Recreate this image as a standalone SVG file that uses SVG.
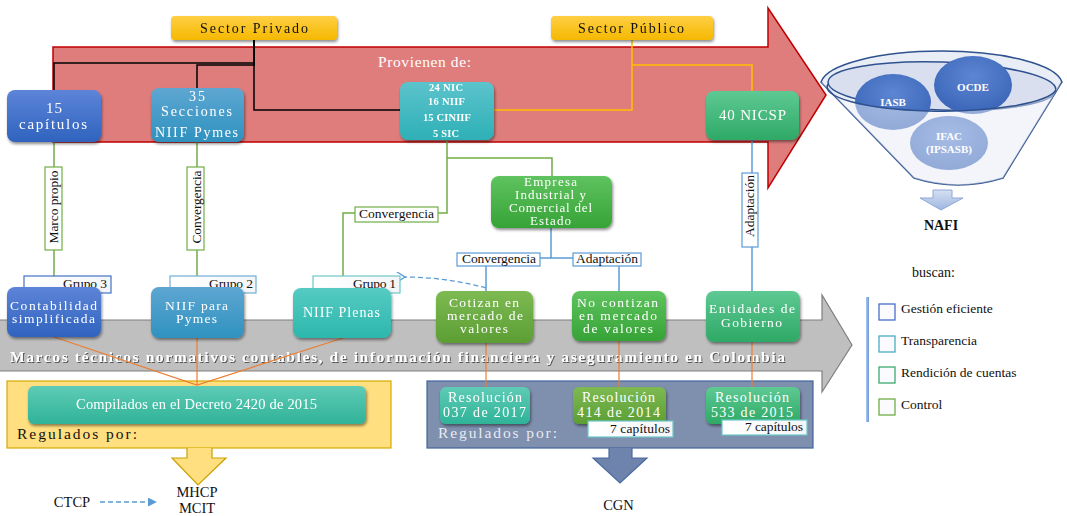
<svg xmlns="http://www.w3.org/2000/svg" width="1067" height="516" viewBox="0 0 1067 516">
<style>
text{font-family:"Liberation Serif","DejaVu Serif",serif}
.w{fill:#fff}
.k{fill:#111}
.n{font-size:13.5px}
.r{font-size:14px}
.s{font-size:10.5px;font-weight:bold}
.lb{font-size:13.5px;fill:#111}
.c{text-anchor:middle}
.blk{fill:none;stroke:#000;stroke-width:1.5}
.org{fill:none;stroke:#ffc000;stroke-width:1.5}
.grn{fill:none;stroke:#70ad47;stroke-width:1.5}
.blu{fill:none;stroke:#5b9bd5;stroke-width:1.5}
.ora{fill:none;stroke:#ed7d31;stroke-width:1.2}
.node{filter:url(#sh)}
</style>
<defs>
<filter id="sh" x="-20%" y="-20%" width="140%" height="150%"><feDropShadow dx="1" dy="2" stdDeviation="1.5" flood-color="#000" flood-opacity="0.45"/></filter>
<filter id="tsh" x="-5%" y="-30%" width="110%" height="160%"><feDropShadow dx="1" dy="1" stdDeviation="0.6" flood-color="#444" flood-opacity="0.9"/></filter>
<linearGradient id="gBlue1" x1="0" y1="0" x2="0" y2="1"><stop offset="0" stop-color="#5d84d8"/><stop offset="1" stop-color="#2f63bf"/></linearGradient>
<linearGradient id="gBlue2" x1="0" y1="0" x2="0" y2="1"><stop offset="0" stop-color="#5ea6d2"/><stop offset="1" stop-color="#2f92bf"/></linearGradient>
<linearGradient id="gTeal" x1="0" y1="0" x2="0" y2="1"><stop offset="0" stop-color="#5cc3cc"/><stop offset="1" stop-color="#2eb0b6"/></linearGradient>
<linearGradient id="gTeal2" x1="0" y1="0" x2="0" y2="1"><stop offset="0" stop-color="#55cbc2"/><stop offset="1" stop-color="#2db7ad"/></linearGradient>
<linearGradient id="gGT" x1="0" y1="0" x2="0" y2="1"><stop offset="0" stop-color="#5ec993"/><stop offset="1" stop-color="#2ea966"/></linearGradient>
<linearGradient id="gG" x1="0" y1="0" x2="0" y2="1"><stop offset="0" stop-color="#5fc35f"/><stop offset="1" stop-color="#36a336"/></linearGradient>
<linearGradient id="gOl" x1="0" y1="0" x2="0" y2="1"><stop offset="0" stop-color="#7dba52"/><stop offset="1" stop-color="#5c9e34"/></linearGradient>
<linearGradient id="gTG" x1="0" y1="0" x2="0" y2="1"><stop offset="0" stop-color="#5fcbb6"/><stop offset="1" stop-color="#2fb398"/></linearGradient>
<linearGradient id="gY" x1="0" y1="0" x2="0" y2="1"><stop offset="0" stop-color="#ffcf45"/><stop offset="1" stop-color="#f5b800"/></linearGradient>
<linearGradient id="gBar" x1="0" y1="0" x2="1" y2="0"><stop offset="0" stop-color="#a9c6ee"/><stop offset="1" stop-color="#6d97d8"/></linearGradient>
<linearGradient id="gSmall" x1="0" y1="0" x2="0" y2="1"><stop offset="0" stop-color="#d5e0f2"/><stop offset="1" stop-color="#9fb6e0"/></linearGradient>
<linearGradient id="gTag" x1="0" y1="0" x2="1" y2="0"><stop offset="0" stop-color="#ffffff"/><stop offset="1" stop-color="#f3f5f8"/></linearGradient>
<radialGradient id="gCirc" cx="0.5" cy="0.35" r="0.65"><stop offset="0" stop-color="#5d86d2"/><stop offset="1" stop-color="#3a65b8"/></radialGradient>
<marker id="openArr" viewBox="0 0 10 10" refX="2" refY="5" markerWidth="10" markerHeight="10" markerUnits="userSpaceOnUse" orient="auto-start-reverse"><path d="M9,0 L1,5 L9,10" fill="none" stroke="#5b9bd5" stroke-width="1.3"/></marker>
<marker id="triArr" viewBox="0 0 10 10" refX="9" refY="5" markerWidth="9" markerHeight="9" markerUnits="userSpaceOnUse" orient="auto"><path d="M0,0 L10,5 L0,10 Z" fill="#5b9bd5"/></marker>
</defs>

<!-- background shapes -->
<g id="red-arrow"><path d="M53,47 H768 V8 L826,95 L768,188 V142 H53 Z" fill="#df7d7d" stroke="#c00000" stroke-width="1.5"/>
<text x="378" y="67" class="w" font-size="15.5" textLength="93">Provienen de:</text></g>
<g id="gray-arrow"><path d="M0,320 H822 V295 L852,345 L822,392 V371 H0" fill="#bfbfbf" stroke="#7f7f7f" stroke-width="1.2"/>
<text x="10" y="362" class="w" font-size="15.5" font-weight="bold" textLength="775" filter="url(#tsh)">Marcos técnicos normativos contables, de información financiera y aseguramiento en Colombia</text></g>
<g id="yellow-box"><rect x="7" y="381" width="384" height="67" fill="#ffdf80" stroke="#d6a800" stroke-width="1.2"/>
<path d="M187,448 V458 H172 L198,485 L226,458 H212 V448" fill="#ffdf80" stroke="#c9a000" stroke-width="1.2"/>
<text x="17" y="439" class="k" font-size="15.5" textLength="120">Regulados por:</text></g>
<g id="blue-box"><rect x="427" y="381" width="386" height="67" fill="#7f8fae" stroke="#41659c" stroke-width="1.2"/>
<path d="M609,448 V458 H593 L620,483 L647,458 H632 V448" fill="#6e84ad" stroke="#4a6aa0" stroke-width="1.2"/>
<text x="438" y="438" fill="#e8ebf2" font-size="15.5" textLength="119">Regulados por:</text></g>

<!-- connectors -->
<g id="connectors">
<path class="blk" d="M254,40 V63 H54 V90"/>
<path class="blk" d="M254,40 V65 H197 V88"/>
<path class="blk" d="M254,40 V110 H400"/>
<path class="org" d="M632,40 V110 H494"/>
<path class="org" d="M632,65 H752 V91"/>
<path class="grn" d="M54,142 V288"/>
<path class="grn" d="M197,142 V288"/>
<path class="grn" d="M447,140 V213 H343 V290"/>
<path class="grn" d="M447,158 H552 V176"/>
<path class="blu" d="M551,228 V258 H573"/>
<path class="blu" d="M551,258 H540"/>
<path class="blu" d="M486,266 V291"/>
<path class="blu" d="M619,266 V291"/>
<path class="blu" d="M752,140 V291"/>
<path d="M486,288 Q445,277 404,277" fill="none" stroke="#5b9bd5" stroke-width="1.3" stroke-dasharray="5,3" marker-end="url(#openArr)"/>
<path class="ora" d="M54,337 L197,385 L343,338"/>
<path class="ora" d="M197,338 V385"/>
<path class="ora" d="M486,343 V387"/>
<path class="ora" d="M619,341 V387"/>
<path class="ora" d="M752,342 V387"/>
<line x1="100" y1="502" x2="156" y2="502" stroke="#5b9bd5" stroke-width="1.3" stroke-dasharray="5,3" marker-end="url(#triArr)"/>
<!-- connector labels -->
<rect x="45" y="167" width="17" height="83" fill="#fff" stroke="#70ad47" stroke-width="1.2"/>
<text class="lb c" transform="translate(58,207) rotate(-90)" textLength="73">Marco propio</text>
<rect x="187" y="167" width="17" height="83" fill="#fff" stroke="#70ad47" stroke-width="1.2"/>
<text class="lb c" transform="translate(201,207) rotate(-90)" textLength="73">Convergencia</text>
<rect x="355" y="207" width="83" height="15" fill="#fff" stroke="#70ad47" stroke-width="1.2"/>
<text class="lb c" x="396.5" y="218" textLength="75">Convergencia</text>
<rect x="457" y="253" width="83" height="13" fill="#fff" stroke="#5b9bd5" stroke-width="1.2"/>
<text class="lb c" x="499" y="263" textLength="74">Convergencia</text>
<rect x="573" y="253" width="68" height="13" fill="#fff" stroke="#5b9bd5" stroke-width="1.2"/>
<text class="lb c" x="607" y="263" textLength="62">Adaptación</text>
<rect x="742" y="173" width="16" height="74" fill="#fff" stroke="#5b9bd5" stroke-width="1.2"/>
<text class="lb c" transform="translate(754,206) rotate(-90)" textLength="62">Adaptación</text>
</g>

<!-- top nodes -->
<g id="sector-privado" class="node"><rect x="171" y="16" width="166" height="24" rx="4" fill="url(#gY)"/>
<text x="254" y="33" class="k c" font-size="14" textLength="108">Sector Privado</text></g>
<g id="sector-publico" class="node"><rect x="551" y="16" width="162" height="24" rx="4" fill="url(#gY)"/>
<text x="631" y="33" class="k c" font-size="14" textLength="106">Sector Público</text></g>
<g id="n15cap" class="node"><rect x="7" y="90" width="94" height="52" rx="8" fill="url(#gBlue1)"/>
<text x="54" y="113" class="w c" font-size="15" textLength="16">15</text>
<text x="53" y="129" class="w c" font-size="15" textLength="68">capítulos</text></g>
<g id="n35sec" class="node"><rect x="151" y="88" width="93" height="54" rx="8" fill="url(#gBlue2)"/>
<text x="197" y="101" class="w c" font-size="14" textLength="16">35</text>
<text x="196.5" y="116" class="w c" font-size="14" textLength="71">Secciones</text>
<text x="196.5" y="137" class="w c" font-size="14" textLength="83">NIIF Pymes</text></g>
<g id="nNIC" class="node"><rect x="400" y="82" width="94" height="58" rx="8" fill="url(#gTeal)"/>
<text x="446" y="91" class="w s c" textLength="34">24 NIC</text>
<text x="446.5" y="105" class="w s c" textLength="37">16 NIIF</text>
<text x="447" y="121" class="w s c" textLength="48">15 CINIIF</text>
<text x="446" y="137" class="w s c" textLength="26">5 SIC</text></g>
<g id="nNICSP" class="node"><rect x="706" y="91" width="93" height="49" rx="8" fill="url(#gGT)"/>
<text x="752.5" y="120" class="w c" font-size="15" textLength="67">40 NICSP</text></g>
<g id="nEmpresa" class="node"><rect x="491" y="176" width="121" height="52" rx="8" fill="url(#gG)"/>
<text x="550.5" y="186" class="w c" font-size="13" textLength="53">Empresa</text>
<text x="550.5" y="199" class="w c" font-size="13" textLength="71">Industrial y</text>
<text x="550.5" y="212" class="w c" font-size="13" textLength="83">Comercial del</text>
<text x="550.5" y="225" class="w c" font-size="13" textLength="41">Estado</text></g>

<!-- group tags -->
<g id="grupo3"><rect x="24" y="276" width="87" height="17" fill="url(#gTag)" stroke="#4472c4" stroke-width="1.2"/>
<text x="107" y="288" class="lb" text-anchor="end" textLength="44">Grupo 3</text></g>
<g id="grupo2"><rect x="170" y="276" width="86" height="17" fill="url(#gTag)" stroke="#6fb0d8" stroke-width="1.2"/>
<text x="253" y="288" class="lb" text-anchor="end" textLength="44">Grupo 2</text></g>
<g id="grupo1"><rect x="313" y="276" width="87" height="17" fill="url(#gTag)" stroke="#6cc7c7" stroke-width="1.2"/>
<text x="396" y="288" class="lb" text-anchor="end" textLength="43">Grupo 1</text></g>

<!-- bottom nodes -->
<g id="nContab" class="node"><rect x="7" y="287" width="94" height="50" rx="8" fill="url(#gBlue1)"/>
<text x="53.5" y="310" class="w n c" textLength="87">Contabilidad</text>
<text x="53.5" y="323" class="w n c" textLength="83">simplificada</text></g>
<g id="nNIIFPymes" class="node"><rect x="151" y="287" width="93" height="51" rx="8" fill="url(#gBlue2)"/>
<text x="196.5" y="310" class="w n c" textLength="63">NIIF para</text>
<text x="196.5" y="323" class="w n c" textLength="41">Pymes</text></g>
<g id="nPlenas" class="node"><rect x="293" y="288" width="98" height="50" rx="8" fill="url(#gTeal2)"/>
<text x="341.5" y="317" class="w c" font-size="14" textLength="77">NIIF Plenas</text></g>
<g id="nCotizan" class="node"><rect x="436" y="291" width="97" height="52" rx="8" fill="url(#gOl)"/>
<text x="484" y="307" class="w n c" textLength="70">Cotizan en</text>
<text x="485" y="320" class="w n c" textLength="76">mercado de</text>
<text x="484" y="333" class="w n c" textLength="48">valores</text></g>
<g id="nNoCotizan" class="node"><rect x="572" y="291" width="94" height="50" rx="8" fill="url(#gG)"/>
<text x="617.5" y="307" class="w n c" textLength="81">No contizan</text>
<text x="618" y="320" class="w n c" textLength="78">en mercado</text>
<text x="618" y="333" class="w n c" textLength="70">de valores</text></g>
<g id="nEntidades" class="node"><rect x="706" y="291" width="94" height="51" rx="8" fill="url(#gGT)"/>
<text x="752" y="313" class="w n c" textLength="86">Entidades de</text>
<text x="751.5" y="327" class="w n c" textLength="61">Gobierno</text></g>

<!-- regulation nodes -->
<g id="nCompilados" class="node"><rect x="28" y="386" width="338" height="38" rx="6" fill="url(#gTG)"/>
<text x="196.5" y="409" class="w c" font-size="14.5" textLength="241">Compilados en el Decreto 2420 de 2015</text></g>
<g id="nRes037" class="node"><rect x="440" y="387" width="90" height="37" rx="6" fill="url(#gTG)"/>
<text x="485" y="402" class="w r c" textLength="74">Resolución</text>
<text x="484.5" y="417" class="w r c" textLength="83">037 de 2017</text></g>
<g id="nRes414"><rect class="node" x="573" y="387" width="93" height="37" rx="6" fill="url(#gOl)"/>
<text x="618.5" y="402" class="w r c" textLength="73">Resolución</text>
<text x="618.5" y="417" class="w r c" textLength="83">414 de 2014</text>
<rect x="588" y="421" width="85" height="16" fill="url(#gTag)" stroke="#6cc7c7" stroke-width="1.2"/>
<text x="670" y="433" class="lb" text-anchor="end" textLength="60">7 capítulos</text></g>
<g id="nRes533"><rect class="node" x="706" y="387" width="94" height="37" rx="6" fill="url(#gGT)"/>
<text x="752" y="402" class="w r c" textLength="74">Resolución</text>
<text x="752" y="417" class="w r c" textLength="82">533 de 2015</text>
<rect x="722" y="420" width="85" height="15" fill="url(#gTag)" stroke="#6cc7c7" stroke-width="1.2"/>
<text x="803" y="431" class="lb" text-anchor="end" textLength="58">7 capítulos</text></g>

<!-- bottom texts -->
<g id="regulators">
<text x="197" y="497" class="k c" font-size="14.5">MHCP</text>
<text x="197" y="513" class="k c" font-size="14.5">MCIT</text>
<text x="72" y="507" class="k c" font-size="14.5">CTCP</text>
<text x="618.5" y="510" class="k c" font-size="14.5">CGN</text>
</g>

<!-- funnel -->
<g id="funnel">
<path d="M821,82 A121,34 0 0 1 1062,82 L1003,178 Q958,192 914,178 Z" fill="#e9edf6" stroke="#2f528f" stroke-width="1.5"/>
<ellipse cx="942" cy="86" rx="114" ry="24" fill="#d9dfee" stroke="#2f528f" stroke-width="1.5" transform="rotate(2 942 86)"/>
<ellipse cx="893" cy="102" rx="38" ry="28" fill="url(#gCirc)"/>
<ellipse cx="973" cy="85" rx="39" ry="29" fill="url(#gCirc)"/>
<ellipse cx="949" cy="143" rx="39" ry="27" fill="url(#gCirc)"/>
<path d="M828,84 A114,24 0 0 0 1056,90 L1062,82 L1003,178 Q958,192 914,178 L821,82 Z" fill="#ffffff" fill-opacity="0.45"/>
<path d="M828,84 A114,24 0 0 0 1056,90" fill="none" stroke="#2f528f" stroke-width="1.5"/>
<text x="893" y="106" class="w c" font-size="11" font-weight="bold">IASB</text>
<text x="973" y="91" class="w c" font-size="11" font-weight="bold">OCDE</text>
<text x="949" y="140" class="w c" font-size="11" font-weight="bold">IFAC</text>
<text x="949" y="153" class="w c" font-size="11" font-weight="bold">(IPSASB)</text>
<path d="M933,190 V198 H920 L941,210 L963,198 H952 V190 Z" fill="url(#gSmall)" stroke="#8fa8d8" stroke-width="1"/>
<text x="941" y="230" class="k c" font-size="14" font-weight="bold">NAFI</text>
</g>

<!-- legend -->
<g id="legend">
<text x="912" y="277" class="k" font-size="14">buscan:</text>
<rect x="866" y="297" width="3" height="125" fill="url(#gBar)"/>
<rect x="879" y="304" width="16" height="16" fill="#fafaff" stroke="#4472c4" stroke-width="1.3"/>
<rect x="879" y="336" width="16" height="16" fill="#fafaff" stroke="#4bacc6" stroke-width="1.3"/>
<rect x="879" y="367" width="16" height="16" fill="#fafaff" stroke="#3caa6e" stroke-width="1.3"/>
<rect x="879" y="399" width="16" height="16" fill="#fafaff" stroke="#70ad47" stroke-width="1.3"/>
<text x="901" y="313" class="lb">Gestión eficiente</text>
<text x="901" y="345" class="lb">Transparencia</text>
<text x="901" y="377" class="lb">Rendición de cuentas</text>
<text x="901" y="409" class="lb">Control</text>
</g>
</svg>
